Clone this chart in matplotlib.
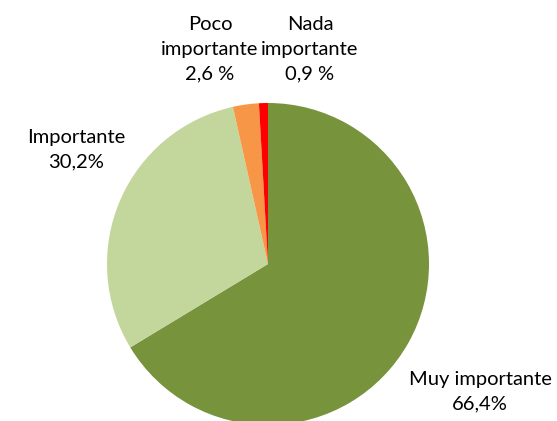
import matplotlib
matplotlib.use("Agg")
import matplotlib.pyplot as plt

# Importancia percibida (porcentaje de respuestas)
categorias = ["Muy importante", "Importante", "Poco\nimportante", "Nada\nimportante"]
valores = [66.4, 30.2, 2.6, 0.9]
etiquetas_valor = ["66,4%", "30,2%", "2,6 %", "0,9 %"]
colores = ["#77933C", "#C3D69B", "#F79646", "#FF0000"]

plt.rcParams["font.family"] = ["Lato", "DejaVu Sans"]

fig = plt.figure(figsize=(5.57, 4.21), dpi=100)
ax = fig.add_axes([0, 0, 1, 1])

ax.pie(valores, colors=colores, startangle=90, counterclock=False,
       center=(268, 157), radius=161, frame=True,
       wedgeprops=dict(linewidth=0))
ax.set_xlim(0, 557)
ax.set_ylim(0, 421)
ax.set_aspect("equal")
ax.axis("off")

# posiciones de las etiquetas
pos = [(480, 29), (76, 271), (210, 372), (310, 372)]
for nombre, val, (x, y) in zip(categorias, etiquetas_valor, pos):
    ax.text(x, y, nombre + "\n" + val, ha="center", va="center",
            fontsize=14.5, color="#000000", linespacing=1.55)

fig.savefig("out.png", dpi=100)
